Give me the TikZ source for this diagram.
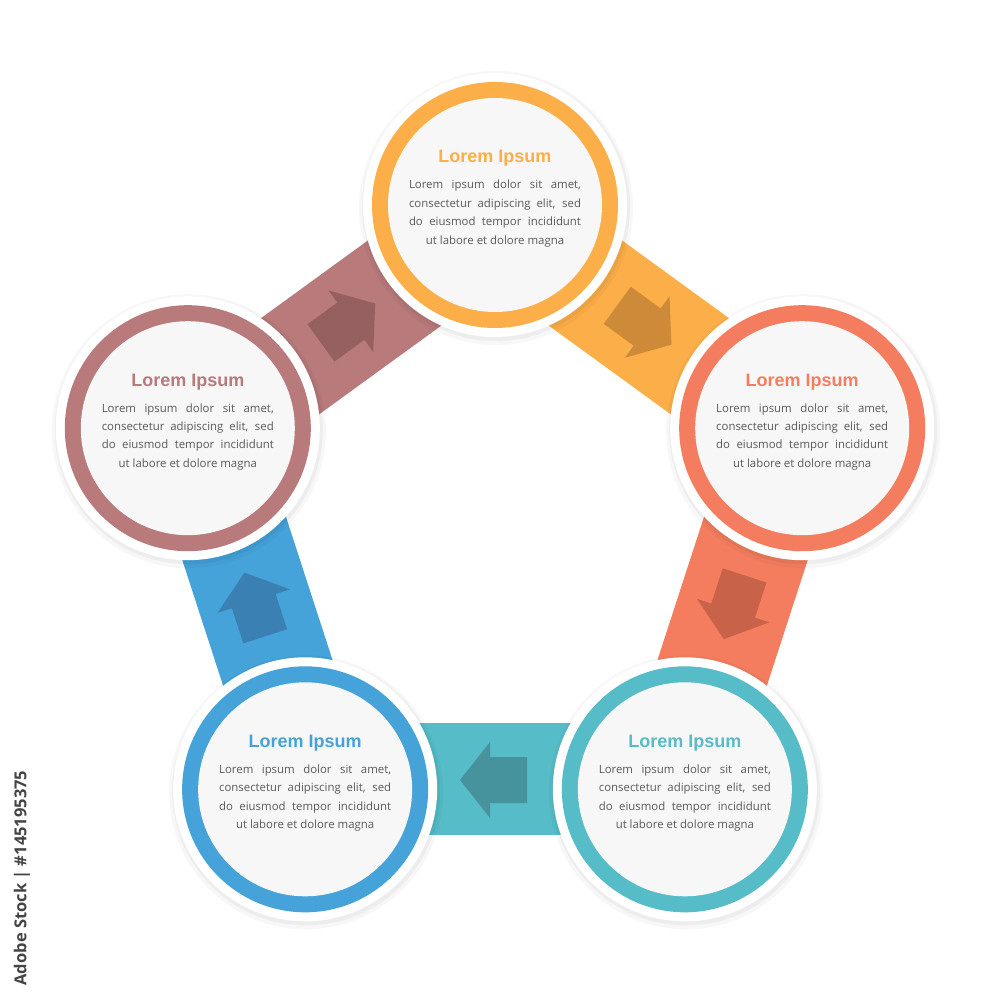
\documentclass[tikz,border=0pt]{standalone}
\usepackage{fontspec}
\setmainfont{Open Sans}
\newfontfamily\titlef{Liberation Sans}
\usetikzlibrary{calc}
\definecolor{corange}{HTML}{FCAF48}
\definecolor{corangeA}{HTML}{CD8B3A}
\definecolor{cred}{HTML}{F47D5F}
\definecolor{credA}{HTML}{C8634A}
\definecolor{cteal}{HTML}{56BDC8}
\definecolor{ctealA}{HTML}{46939E}
\definecolor{cblue}{HTML}{45A3DA}
\definecolor{cblueA}{HTML}{3A80B2}
\definecolor{cbrown}{HTML}{B87A7B}
\definecolor{cbrownA}{HTML}{965F60}
\definecolor{cdisk}{HTML}{F7F7F7}
\definecolor{cbody}{HTML}{5A5A5A}
\definecolor{cmark}{HTML}{444444}
\tikzset{
  bandline/.style={line width=112pt, line cap=butt},
  titlestyle/.style={font=\titlef\bfseries\fontsize{18}{20}\selectfont, anchor=base, inner sep=0pt},
  bodystyle/.style={font=\fontsize{11.4}{13}\selectfont, text=cbody, anchor=base, inner sep=0pt},
}
\newcommand\stepband[5]{%
  \pgfmathsetmacro\bandpos{#3-36}%
  \pgfmathsetmacro\bandrot{#3-126}%
  \draw[bandline, draw=#4] ($(#1)!10pt!-90:(#2)$) -- ($(#2)!10pt!90:(#1)$);
  \fill[#5, shift={(\bandpos:252pt)}, rotate=\bandrot]
    (35,0) -- (5,38) -- (5,23) -- (-32,23) -- (-32,-23) -- (5,-23) -- (5,-38) -- cycle;
}
\newcommand\stepdisk[2]{%
  \fill[black, opacity=.03] ([shift={(1,-3)}]#1) circle (137pt);
  \fill[black, opacity=.04] ([shift={(1,-2)}]#1) circle (134pt);
  \fill[white] (#1) circle (132pt);
  \fill[#2] (#1) circle (123pt);
  \fill[cdisk] (#1) circle (107pt);
  \node[titlestyle, text=#2] (#1-t) at ([yshift=42pt]#1) {Lorem Ipsum};
  \node[bodystyle] (#1-a) at ([yshift=16pt]#1) {\makebox[172pt][s]{Lorem ipsum dolor sit amet,}};
  \node[bodystyle] (#1-b) at ([yshift=-2.4pt]#1) {\makebox[172pt][s]{consectetur adipiscing elit, sed}};
  \node[bodystyle] (#1-c) at ([yshift=-20.8pt]#1) {\makebox[172pt][s]{do eiusmod tempor incididunt}};
  \node[bodystyle] (#1-d) at ([yshift=-39.2pt]#1) {ut labore et dolore magna};
}
\begin{document}
\begin{tikzpicture}[x=1pt,y=1pt]
\useasboundingbox (-495,-472) rectangle (505,528);
\fill[white] (-495,-472) rectangle (505,528);
\coordinate (top) at (90:323pt);
\coordinate (rgt) at (18:323pt);
\coordinate (brt) at (-54:323pt);
\coordinate (blt) at (-126:323pt);
\coordinate (lft) at (162:323pt);
\stepband{top}{rgt}{90}{corange}{corangeA}
\stepband{rgt}{brt}{18}{cred}{credA}
\stepband{brt}{blt}{-54}{cteal}{ctealA}
\stepband{blt}{lft}{-126}{cblue}{cblueA}
\stepband{lft}{top}{162}{cbrown}{cbrownA}
\stepdisk{top}{corange}
\stepdisk{rgt}{cred}
\stepdisk{brt}{cteal}
\stepdisk{blt}{cblue}
\stepdisk{lft}{cbrown}
\node[rotate=90, font=\bfseries\fontsize{16.5}{18}\selectfont, text=cmark, inner sep=0pt] (mark) at (-473,-350) {Adobe Stock | \#145195375};
\end{tikzpicture}
\end{document}
